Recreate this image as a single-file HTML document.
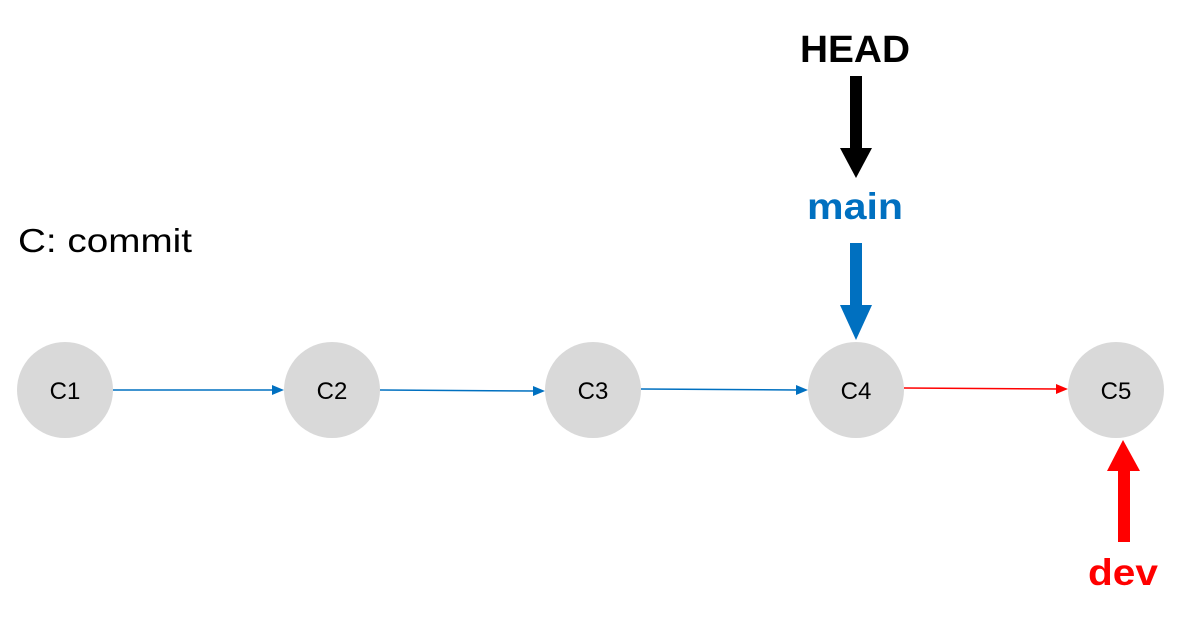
<!DOCTYPE html>
<html><head><style>body{margin:0;background:#fff}</style></head><body>
<svg width="1186" height="612" viewBox="0 0 1186 612" xmlns="http://www.w3.org/2000/svg" font-family="'Liberation Sans', sans-serif">
<rect width="1186" height="612" fill="#fff"/>
<text x="18" y="252" font-size="33" fill="#000" textLength="174" lengthAdjust="spacingAndGlyphs">C: commit</text>
<g fill="#d9d9d9">
<circle cx="65" cy="390" r="48"/><circle cx="332" cy="390" r="48"/><circle cx="593" cy="390" r="48"/><circle cx="856" cy="390" r="48"/><circle cx="1116" cy="390" r="48"/>
</g>
<g font-size="24" text-anchor="middle" fill="#000">
<text x="65" y="399">C1</text><text x="332" y="399">C2</text><text x="593" y="399">C3</text><text x="856" y="399">C4</text><text x="1116" y="399">C5</text>
</g>
<g stroke="#0070c0" stroke-width="1.5">
<line x1="113" y1="390" x2="274" y2="390"/><line x1="380" y1="390" x2="535" y2="391"/><line x1="641" y1="389" x2="798" y2="390"/>
</g>
<g fill="#0070c0">
<polygon points="284,390 272,385 272,395"/><polygon points="545,391 533,386 533,396"/><polygon points="808,390 796,385 796,395"/>
</g>
<line x1="904" y1="388" x2="1057" y2="389" stroke="#f00" stroke-width="1.5"/>
<polygon points="1068,389 1056,384 1056,394" fill="#f00"/>
<text x="855" y="62" font-size="38" font-weight="bold" text-anchor="middle" textLength="110" lengthAdjust="spacingAndGlyphs">HEAD</text>
<rect x="850" y="76" width="12" height="74" fill="#000"/>
<polygon points="840,148 872,148 856,178" fill="#000"/>
<text x="855" y="219" font-size="37" font-weight="bold" text-anchor="middle" fill="#0070c0" textLength="96" lengthAdjust="spacingAndGlyphs">main</text>
<rect x="850" y="243" width="12" height="64" fill="#0070c0"/>
<polygon points="840,305 872,305 856,340" fill="#0070c0"/>
<polygon points="1107,471 1140,471 1123,440" fill="#f00"/>
<rect x="1118" y="469" width="12" height="73" fill="#f00"/>
<text x="1123" y="585" font-size="37" font-weight="bold" text-anchor="middle" fill="#f00" textLength="70" lengthAdjust="spacingAndGlyphs">dev</text>
</svg>
</body></html>
